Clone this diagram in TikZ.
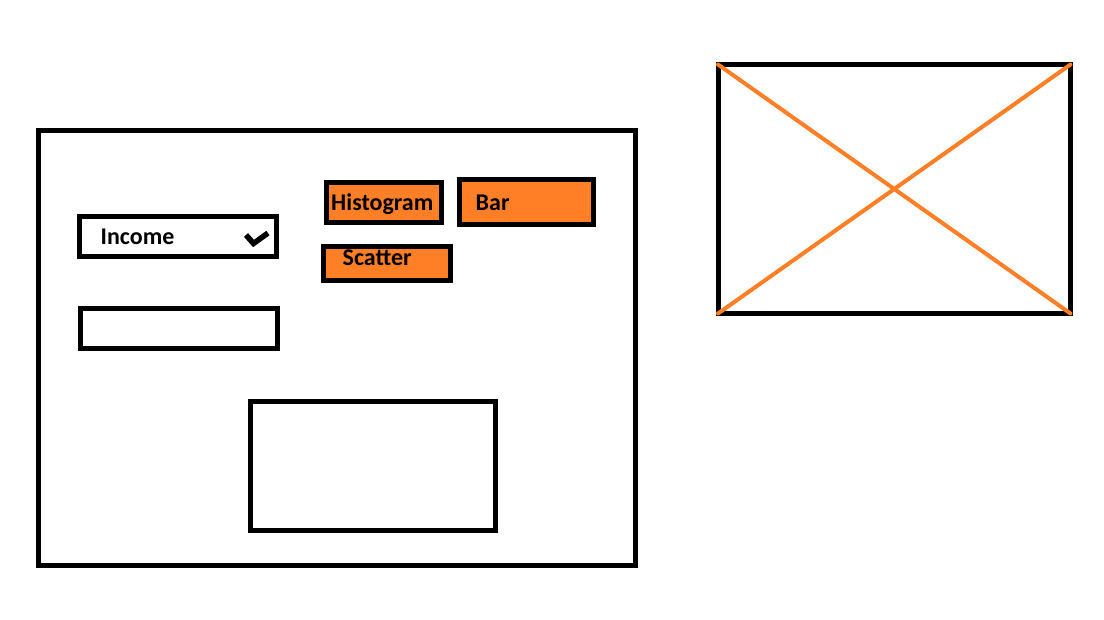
\documentclass[tikz,border=0pt]{standalone}
\usepackage{fontspec}
\setmainfont{Carlito}
\usepackage{tikz}
\definecolor{paint orange}{rgb}{1.0, 0.4980, 0.1529}

\begin{document}
\begin{tikzpicture}[x=1pt, y=-1pt,
		frame/.style = {draw=black, line width=5pt, rectangle, inner sep=0pt, outer sep=0pt},
		button/.style = {frame, fill=paint orange},
		caption/.style = {inner sep=0pt, anchor=base west, font=\fontsize{24}{28}\selectfont\bfseries}]
		\useasboundingbox (0, 0) rectangle (1104, 619);
		% main panel
		\node[frame, minimum width=597, minimum height=435] (panel) at (336.75, 348) {};
		% dropdown and text field
		\node[frame, minimum width=197, minimum height=40] (income) at (177.5, 236.5) {};
		\node[caption] (incometext) at (100.5, 244) {Income};
		\coordinate (tickA) at (246, 235);
		\coordinate (tickB) at (253.5, 243.5);
		\coordinate (tickC) at (268, 233);
		\draw[line width=5.5pt, line join=miter] (tickA) -- (tickB) -- (tickC);
		\node[frame, minimum width=197, minimum height=40] (field) at (179, 328.5) {};
		% chart buttons
		\node[button, minimum width=115, minimum height=39.5] (hist) at (384, 202.25) {};
		\node[caption] (histtext) at (331, 210) {Histogram};
		\node[button, minimum width=134.5, minimum height=45] (bar) at (526.5, 201.75) {};
		\node[caption] (bartext) at (475.5, 210) {Bar};
		\node[button, minimum width=126.5, minimum height=34] (scatter) at (386.75, 263.5) {};
		\node[caption] (scattertext) at (342.5, 265) {Scatter};
		% plot area
		\node[frame, minimum width=245, minimum height=128.5] (plot) at (373, 465.75) {};
		% image placeholder
		\node[frame, minimum width=352.5, minimum height=249] (image) at (894.25, 189) {};
		\draw[paint orange, line width=4pt, line cap=round]
			(image.north west) -- (image.south east)
			(image.south west) -- (image.north east);
	\end{tikzpicture}
\end{document}
